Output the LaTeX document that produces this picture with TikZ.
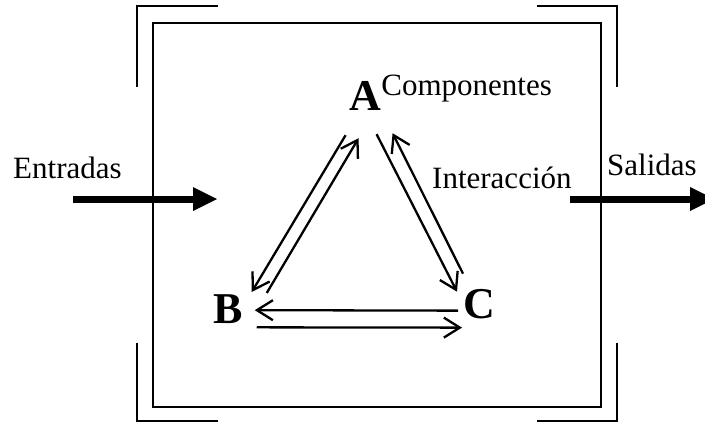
\documentclass[tikz,border=0pt]{standalone}
\usepackage{fontspec}
\setmainfont{Liberation Serif}
\usetikzlibrary{positioning, arrows.meta, calc}

\begin{document}
\begin{tikzpicture}[
  x=1pt, y=-1pt,
  lab/.style={inner sep=0pt, anchor=base west, font=\fontsize{31}{36}\selectfont},
  comp/.style={inner sep=0pt, anchor=base west, font=\fontsize{44}{50}\selectfont\bfseries},
  rel/.style={line width=2.3pt, -{Straight Barb[length=16pt, width=20pt]}},
  io/.style={line width=7pt, -{Triangle[length=24pt, width=24pt, line width=0pt]}},
  frame/.style={line width=2.6pt},
]
  \useasboundingbox (0,0) rectangle (705,423);

  % system boundary
  \draw[frame] (153,23) rectangle (601,407);
  \draw[frame] (218,6) -- (137,6) -- (137,87);
  \draw[frame] (537,6) -- (617,6) -- (617,87);
  \draw[frame] (137,343) -- (137,421) -- (218,421);
  \draw[frame] (537,421) -- (617,421) -- (617,343);

  % components
  \node[comp] (A) at (349,110) {A};
  \node[comp] (B) at (213,323) {B};
  \node[comp] (C) at (463,318) {C};
  \node[lab] (compo) at ([yshift=15pt]A.base east) {Componentes};
  \node[lab] (inter) at (432,188) {Interacción};

  % interactions
  \draw[rel] ([shift={(-19.5,25)}]A.south) -- ([shift={(9,-2)}]B.north east);
  \draw[rel] ([shift={(24,-1)}]B.north east) -- ([shift={(-6.5,28)}]A.south);
  \draw[rel] ([shift={(11.5,24)}]A.south) -- ([shift={(-6,3)}]C.north west);
  \draw[rel] ([shift={(0,-15)}]C.north west) -- ([shift={(27.5,23)}]A.south);
  \draw[rel] ([shift={(-5,7)}]C.west) -- ([shift={(12,1.5)}]B.east);
  \draw[rel] ([shift={(14,4)}]B.south east) -- ([shift={(-1,9)}]C.south west);

  % inputs and outputs
  \node[lab] (ent) at (13,178) {Entradas};
  \node[lab] (sal) at (607,175) {Salidas};
  \coordinate (inS) at (73,199);
  \coordinate (inE) at (217,199);
  \coordinate (outS) at (570,199);
  \coordinate (outE) at (714,199);
  \draw[io] (inS) -- (inE);
  \draw[io] (outS) -- (outE);
\end{tikzpicture}
\end{document}
